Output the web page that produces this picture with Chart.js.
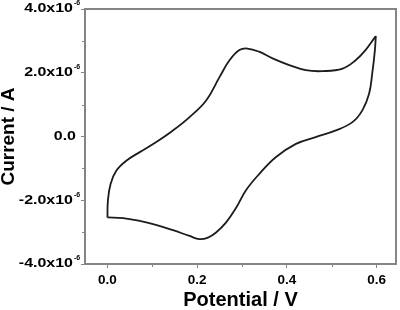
<!DOCTYPE html>
<html>
<head>
<meta charset="utf-8">
<script src="https://cdn.jsdelivr.net/npm/chart.js@4.4.0/dist/chart.umd.min.js"></script>
<style>
  html, body { margin: 0; padding: 0; background: #fff; }
  #wrap { width: 400px; height: 310px; }
</style>
</head>
<body>
<div id="wrap"><canvas id="cvChart" width="400" height="310"></canvas></div>
<script>
// Potential (V) and current (uA)
const forwardPotential = [0.000, 0.035, 0.072, 0.108, 0.146, 0.183, 0.205, 0.224, 0.242, 0.264, 0.287, 0.308, 0.338, 0.375, 0.420, 0.464, 0.509, 0.546, 0.568, 0.583, 0.590, 0.596, 0.598];
const forwardCurrent = [-2.54, -2.56, -2.65, -2.77, -2.94, -3.12, -3.22, -3.17, -3.01, -2.70, -2.23, -1.70, -1.18, -0.65, -0.23, -0.02, 0.19, 0.45, 0.82, 1.34, 1.97, 2.71, 3.15];
const reversePotential = [0.598, 0.575, 0.553, 0.524, 0.479, 0.442, 0.405, 0.368, 0.338, 0.312, 0.294, 0.272, 0.250, 0.220, 0.183, 0.146, 0.108, 0.072, 0.042, 0.020, 0.007, 0.001, 0.000];
const reverseCurrent = [3.15, 2.71, 2.39, 2.13, 2.05, 2.08, 2.24, 2.45, 2.66, 2.76, 2.71, 2.39, 1.87, 1.13, 0.61, 0.19, -0.18, -0.49, -0.76, -1.07, -1.49, -2.02, -2.54];

const xTicks = [0.0, 0.2, 0.4, 0.6];
const xMinorTicks = [0.1, 0.3, 0.5];
const yTicks = [-4e-6, -2e-6, 0, 2e-6, 4e-6];
const yMinorTicks = [-3e-6, -1e-6, 1e-6, 3e-6];

const frameColor = '#858585';
const lineColor = '#1c1c1c';
const fontFamily = '"Liberation Sans", Arial, sans-serif';

function toPoints(xs, ys) {
    return xs.map((v, i) => ({ x: v, y: ys[i] * 1e-6 }));
}

// top/right frame, minor ticks and the y labels with superscripts
const framePlugin = {
    id: 'frame',
    afterDraw(chart) {
        const { ctx, chartArea: a, scales: { x, y } } = chart;
        ctx.save();
        ctx.strokeStyle = frameColor;
        ctx.lineWidth = 2;
        ctx.beginPath();
        ctx.moveTo(a.left, a.top);
        ctx.lineTo(a.right, a.top);
        ctx.lineTo(a.right, a.bottom);
        ctx.stroke();

        ctx.lineWidth = 1;
        ctx.beginPath();
        xMinorTicks.forEach(v => {
            const px = Math.round(x.getPixelForValue(v)) + 0.5;
            ctx.moveTo(px, a.bottom);
            ctx.lineTo(px, a.bottom + 3);
        });
        yMinorTicks.forEach(v => {
            const py = Math.round(y.getPixelForValue(v)) + 0.5;
            ctx.moveTo(a.left, py);
            ctx.lineTo(a.left - 3, py);
        });
        ctx.stroke();

        ctx.fillStyle = '#000';
        yTicks.forEach(v => {
            const py = y.getPixelForValue(v);
            ctx.save();
            if (v === 0) {
                ctx.translate(76, py);
                ctx.scale(1.33, 1);
                ctx.font = 'bold 12px ' + fontFamily;
                ctx.textAlign = 'right';
                ctx.textBaseline = 'middle';
                ctx.fillText('0.0', 0, 0);
            } else {
                ctx.save();
                ctx.translate(73, py);
                ctx.scale(1.33, 1);
                ctx.font = 'bold 12px ' + fontFamily;
                ctx.textAlign = 'right';
                ctx.textBaseline = 'middle';
                ctx.fillText((v / 1e-6).toFixed(1) + 'x10', 0, 0);
                ctx.restore();
                ctx.font = 'bold 7px ' + fontFamily;
                ctx.textAlign = 'left';
                ctx.textBaseline = 'top';
                ctx.fillText('-6', 74, py - 9);
            }
            ctx.restore();
        });
        ctx.restore();
    }
};

new Chart(document.getElementById('cvChart').getContext('2d'), {
    type: 'scatter',
    data: {
        datasets: [{
            data: toPoints(forwardPotential, forwardCurrent),
            showLine: true,
            borderColor: lineColor,
            borderWidth: 1.8,
            pointRadius: 0,
            tension: 0.4
        }, {
            data: toPoints(reversePotential, reverseCurrent),
            showLine: true,
            borderColor: lineColor,
            borderWidth: 1.8,
            pointRadius: 0,
            tension: 0.4
        }]
    },
    options: {
        responsive: false,
        animation: false,
        devicePixelRatio: 1,
        layout: { padding: { top: 9, right: 4, left: 0, bottom: 0 } },
        plugins: {
            legend: { display: false },
            tooltip: { enabled: false }
        },
        scales: {
            x: {
                type: 'linear',
                min: -0.05,
                max: 0.643,
                afterBuildTicks: s => { s.ticks = xTicks.map(v => ({ value: v })); },
                afterFit: s => { s.height = 46; },
                grid: { drawOnChartArea: false, drawTicks: true, tickLength: 4, tickColor: frameColor, tickWidth: 1 },
                border: { display: true, color: frameColor, width: 2 },
                ticks: {
                    padding: 4,
                    color: '#000',
                    font: { family: fontFamily, size: 13.5, weight: 'bold' },
                    callback: v => v.toFixed(1)
                },
                title: {
                    display: true,
                    text: 'Potential / V',
                    color: '#000',
                    padding: { top: 0, bottom: 0 },
                    font: { family: fontFamily, size: 20, weight: 'bold', lineHeight: 0.95 }
                }
            },
            y: {
                type: 'linear',
                min: -4e-6,
                max: 4e-6,
                afterBuildTicks: s => { s.ticks = yTicks.map(v => ({ value: v })); },
                afterFit: s => { s.width = 85; },
                grid: { drawOnChartArea: false, drawTicks: true, tickLength: 4, tickColor: frameColor, tickWidth: 1 },
                border: { display: true, color: frameColor, width: 2 },
                ticks: { display: false },
                title: {
                    display: true,
                    text: 'Current / A',
                    color: '#000',
                    padding: { top: 0, bottom: 0 },
                    font: { family: fontFamily, size: 19, weight: 'bold', lineHeight: 0.95 }
                }
            }
        }
    },
    plugins: [framePlugin]
});
</script>
</body>
</html>
